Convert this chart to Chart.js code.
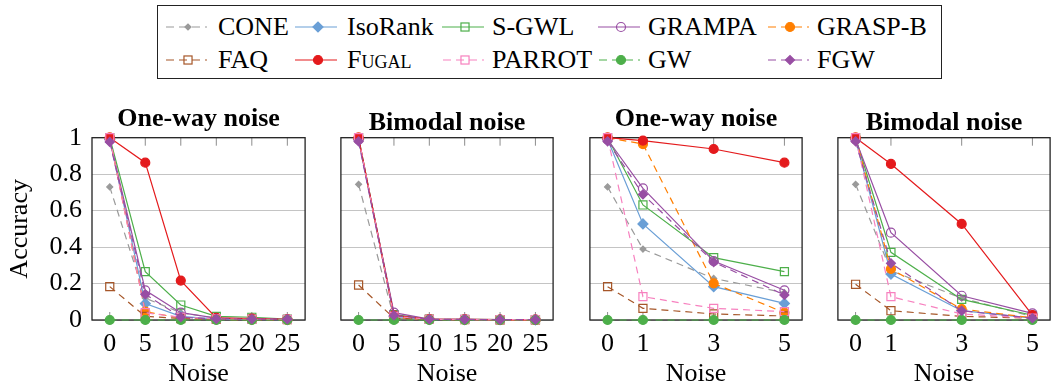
<!DOCTYPE html>
<html>
<head>
<meta charset="utf-8">
<script src="https://cdn.jsdelivr.net/npm/chart.js@4.4.1/dist/chart.umd.min.js"></script>
<style>
  body { margin: 0; width: 1053px; height: 385px; overflow: hidden; background: #fff; position: relative;
         font-family: "Liberation Serif", "DejaVu Serif", serif; }
  canvas { position: absolute; top: 90px; }
  #legendBox { position: absolute; left: 157px; top: 5px; width: 785px; height: 74px;
               border: 1.3px solid #222; box-sizing: border-box; }
  .lg-text { position: absolute; height: 34px; line-height: 34px; font-size: 26px; white-space: nowrap; color: #000; }
  .lg-sample { position: absolute; }
</style>
</head>
<body>
<div id="legendBox"></div>
<canvas id="p1" width="312" height="295" style="left:0px"></canvas>
<canvas id="p2" width="226" height="295" style="left:334px"></canvas>
<canvas id="p3" width="226" height="295" style="left:583px"></canvas>
<canvas id="p4" width="226" height="295" style="left:831px"></canvas>
<script>
const noiseWide = [0, 5, 10, 15, 20, 25];
const noiseNarrow = [0, 1, 3, 5];
const accTicks = [0, 0.2, 0.4, 0.6, 0.8, 1];
const methods = ['CONE', 'IsoRank', 'S-GWL', 'GRAMPA', 'GRASP-B', 'FAQ', 'Fugal', 'PARROT', 'GW', 'FGW'];

// accuracy, one row per method (same order as `methods`)
const oneWayWide = [
  [0.73, 0.12, 0.04, 0.01, 0.005, 0.003],
  [0.99, 0.09, 0.02, 0.005, 0.003, 0.002],
  [1.0, 0.265, 0.082, 0.02, 0.015, 0.005],
  [0.99, 0.163, 0.04, 0.01, 0.006, 0.004],
  [1.0, 0.046, 0.01, 0.003, 0.002, 0.001],
  [0.183, 0.02, 0.008, 0.004, 0.003, 0.002],
  [1.0, 0.863, 0.216, 0.012, 0.008, 0.004],
  [1.0, 0.04, 0.015, 0.006, 0.004, 0.003],
  [0, 0, 0, 0, 0, 0],
  [0.977, 0.141, 0.015, 0.006, 0.005, 0.004]
];
const bimodalWide = [
  [0.744, 0.01, 0.003, 0.002, 0.001, 0.001],
  [0.99, 0.02, 0.003, 0.002, 0.002, 0.001],
  [1.0, 0.03, 0.005, 0.003, 0.002, 0.002],
  [0.99, 0.04, 0.005, 0.003, 0.002, 0.002],
  [1.0, 0.015, 0.003, 0.002, 0.001, 0.001],
  [0.192, 0.01, 0.003, 0.002, 0.001, 0.001],
  [1.0, 0.025, 0.004, 0.003, 0.002, 0.002],
  [1.0, 0.02, 0.004, 0.003, 0.002, 0.002],
  [0, 0, 0, 0, 0, 0],
  [0.98, 0.025, 0.004, 0.003, 0.002, 0.002]
];
const oneWayNarrow = [
  [0.73, 0.389, 0.228, 0.15],
  [0.99, 0.527, 0.183, 0.091],
  [1.0, 0.631, 0.342, 0.265],
  [0.99, 0.722, 0.323, 0.163],
  [1.0, 0.965, 0.201, 0.04],
  [0.183, 0.064, 0.033, 0.022],
  [1.0, 0.984, 0.938, 0.863],
  [1.0, 0.128, 0.064, 0.046],
  [0, 0, 0, 0],
  [0.98, 0.689, 0.318, 0.137]
];
const bimodalNarrow = [
  [0.744, 0.27, 0.12, 0.02],
  [0.99, 0.252, 0.051, 0.01],
  [1.0, 0.371, 0.113, 0.026],
  [0.99, 0.479, 0.133, 0.036],
  [1.0, 0.28, 0.06, 0.012],
  [0.196, 0.051, 0.02, 0.01],
  [1.0, 0.856, 0.527, 0.027],
  [1.0, 0.128, 0.033, 0.01],
  [0, 0, 0, 0],
  [0.98, 0.311, 0.051, 0.01]
];

const serif = '"Liberation Serif", "DejaVu Serif", serif';

const styles = {
  'CONE':    { color: '#9a9a9a', dash: true,  point: 'rectRot', r: 3,   fill: true },
  'IsoRank': { color: '#6a9fd6', dash: false, point: 'rectRot', r: 5,   fill: true },
  'S-GWL':   { color: '#4daf4a', dash: false, point: 'rect',    r: 5.7, fill: false },
  'GRAMPA':  { color: '#984ea3', dash: false, point: 'circle',  r: 4.5, fill: false },
  'GRASP-B': { color: '#ff7f00', dash: true,  point: 'circle',  r: 4.5, fill: true },
  'FAQ':     { color: '#a65628', dash: true,  point: 'rect',    r: 5.7, fill: false },
  'Fugal':   { color: '#e41a1c', dash: false, point: 'circle',  r: 4.5, fill: true },
  'PARROT':  { color: '#f781bf', dash: true,  point: 'rect',    r: 5.7, fill: false },
  'GW':      { color: '#4daf4a', dash: true,  point: 'circle',  r: 4.5, fill: true },
  'FGW':     { color: '#984ea3', dash: true,  point: 'rectRot', r: 4.5, fill: true }
};

function makeDatasets(xs, rows) {
  return methods.map((m, i) => {
    const s = styles[m];
    return {
      label: m,
      data: xs.map((x, j) => ({ x: x, y: rows[i][j] })),
      borderColor: s.color,
      backgroundColor: s.color,
      borderWidth: 1.2,
      borderDash: s.dash ? [7, 5] : [],
      pointStyle: s.point,
      pointRadius: s.r,
      pointBorderWidth: 1.2,
      pointBorderColor: s.color,
      pointBackgroundColor: s.fill ? s.color : 'rgba(0,0,0,0)',
      tension: 0,
      clip: false,
      order: methods.length - i   // later methods end up on top
    };
  });
}

// frame plus the short x tick marks inside the plot box
const axisFrame = {
  id: 'axisFrame',
  beforeDatasetsDraw(chart) {
    const { ctx, chartArea: a } = chart;
    const x = chart.scales.x;
    ctx.save();
    ctx.strokeStyle = '#8c8c8c';
    ctx.lineWidth = 1;
    x.ticks.forEach(t => {
      const px = x.getPixelForValue(t.value);
      ctx.beginPath();
      ctx.moveTo(px, a.top);
      ctx.lineTo(px, a.top + 8);
      ctx.moveTo(px, a.bottom);
      ctx.lineTo(px, a.bottom - 8);
      ctx.stroke();
    });
    ctx.strokeStyle = '#222';
    ctx.lineWidth = 1.3;
    ctx.strokeRect(a.left, a.top, a.right - a.left, a.bottom - a.top);
    ctx.restore();
  }
};

function makePanel(id, title, titleTop, xs, xMin, xMax, rows, first) {
  new Chart(document.getElementById(id), {
    type: 'line',
    data: { datasets: makeDatasets(xs, rows) },
    options: {
      responsive: false,
      animation: false,
      events: [],
      layout: { padding: { right: 2 } },
      plugins: {
        legend: { display: false },
        tooltip: { enabled: false },
        title: {
          display: true,
          text: title,
          fullSize: false,
          color: '#000',
          font: { family: serif, size: 26, weight: 'bold', lineHeight: 1.1 },
          padding: { top: titleTop, bottom: 47.7 - 28.6 - titleTop }
        }
      },
      scales: {
        x: {
          type: 'linear',
          min: xMin,
          max: xMax,
          afterBuildTicks: s => { s.ticks = xs.map(v => ({ value: v })); },
          afterFit: s => { s.height = 65; },
          grid: { display: false },
          border: { display: false },
          ticks: {
            color: '#000', padding: 1, autoSkip: false, maxRotation: 0,
            font: { family: serif, size: 26, lineHeight: 1.2 },
            callback: v => String(v)
          },
          title: {
            display: true, text: 'Noise', color: '#000', padding: 0,
            font: { family: serif, size: 26, lineHeight: 0.82 }
          }
        },
        y: {
          min: 0,
          max: 1,
          afterBuildTicks: s => { s.ticks = accTicks.map(v => ({ value: v })); },
          afterFit: s => { s.width = first ? 92 : 6; },
          grid: { color: '#c4c4c4', lineWidth: 1, drawTicks: false },
          border: { display: false },
          ticks: {
            display: first, color: '#000', padding: 10,
            font: { family: serif, size: 26 },
            callback: v => String(+v.toFixed(1))
          },
          title: {
            display: first, text: 'Accuracy', color: '#000', padding: { top: 5 },
            font: { family: serif, size: 26, lineHeight: 1.2 }
          }
        }
      }
    },
    plugins: [axisFrame]
  });
}

makePanel('p1', 'One-way noise', 14.5, noiseWide, -2.5, 27.5, oneWayWide, true);
makePanel('p2', 'Bimodal noise', 19, noiseWide, -2.5, 27.5, bimodalWide, false);
makePanel('p3', 'One-way noise', 14.5, noiseNarrow, -0.5, 5.5, oneWayNarrow, false);
makePanel('p4', 'Bimodal noise', 19, noiseNarrow, -0.5, 5.5, bimodalNarrow, false);

// shared legend: five columns, two rows
const legendSampleX = [165, 295, 442, 598, 767];
const legendTextX = [218, 347, 492, 648, 817];
const legendRowY = [26.7, 60];

function markerSvg(s, cx, cy) {
  const fill = s.fill ? s.color : 'none';
  if (s.point === 'circle') {
    return `<circle cx="${cx}" cy="${cy}" r="${s.r}" fill="${fill}" stroke="${s.color}" stroke-width="1.2"/>`;
  }
  if (s.point === 'rect') {
    const h = s.r * Math.SQRT1_2;
    return `<rect x="${cx - h}" y="${cy - h}" width="${2 * h}" height="${2 * h}" fill="${fill}" stroke="${s.color}" stroke-width="1.2"/>`;
  }
  const r = s.r;
  return `<polygon points="${cx - r},${cy} ${cx},${cy - r} ${cx + r},${cy} ${cx},${cy + r}" fill="${fill}" stroke="${s.color}" stroke-width="1.2"/>`;
}

methods.forEach((m, i) => {
  const s = styles[m];
  const col = i % 5, row = Math.floor(i / 5);
  const cy = legendRowY[row];
  const w = 42, h = 20;
  const svg = document.createElementNS('http://www.w3.org/2000/svg', 'svg');
  svg.setAttribute('class', 'lg-sample');
  svg.setAttribute('width', w);
  svg.setAttribute('height', h);
  svg.style.left = legendSampleX[col] + 'px';
  svg.style.top = (cy - h / 2) + 'px';
  svg.innerHTML =
    `<line x1="0" y1="${h / 2}" x2="${w}" y2="${h / 2}" stroke="${s.color}" stroke-width="1.2"` +
    (s.dash ? ` stroke-dasharray="8 5" stroke-dashoffset="-1"` : '') + `/>` +
    markerSvg(s, w / 2 + 2, h / 2);
  document.body.appendChild(svg);

  const label = document.createElement('div');
  label.className = 'lg-text';
  label.textContent = m;
  if (m === 'Fugal') label.style.fontVariant = 'small-caps';
  label.style.left = legendTextX[col] + 'px';
  label.style.top = (cy - 17) + 'px';
  document.body.appendChild(label);
});
</script>
</body>
</html>
